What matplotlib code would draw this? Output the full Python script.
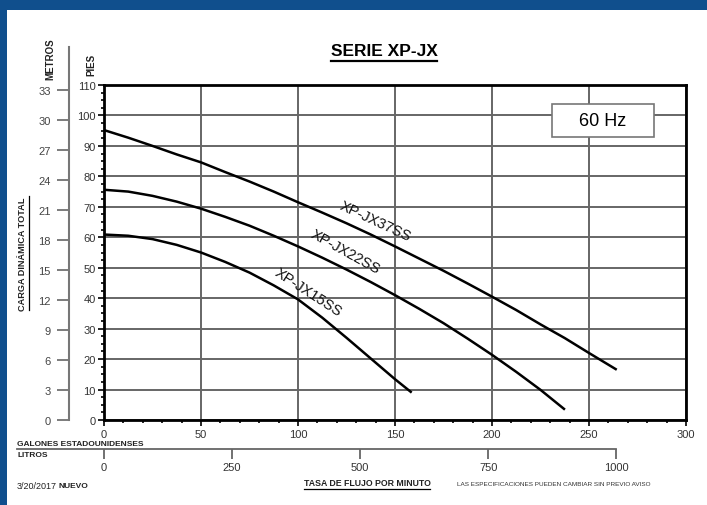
import matplotlib
matplotlib.use('Agg')
import matplotlib.pyplot as plt
from matplotlib.lines import Line2D
from matplotlib.patches import Rectangle
from matplotlib.ticker import MultipleLocator

plt.rcParams['font.family'] = ['Liberation Sans', 'DejaVu Sans']

# curvas: flujo (gpm) / carga (pies)
gpm_37 = [0, 12.5, 25, 37.5, 50, 62.5, 75, 87.5, 100, 112.5, 125, 137.5, 150,
          162.5, 175, 187.5, 200, 212.5, 225, 237.5, 250, 264.3]
ft_37 = [95.2, 92.7, 90.0, 87.2, 84.6, 81.4, 78.3, 75.0, 71.5, 68.1, 64.6, 60.9, 57.0,
         53.0, 49.0, 44.8, 40.5, 36.1, 31.4, 26.9, 22.0, 16.5]
gpm_22 = [0, 12.5, 25, 37.5, 50, 62.5, 75, 87.5, 100, 112.5, 125, 137.5, 150,
          162.5, 175, 187.5, 200, 212.5, 225, 237.6]
ft_22 = [75.6, 75.0, 73.6, 71.7, 69.4, 66.7, 63.8, 60.5, 57.0, 53.3, 49.4, 45.3, 41.0,
         36.5, 31.8, 26.7, 21.4, 15.8, 9.9, 3.4]
gpm_15 = [0, 12.5, 25, 37.5, 50, 62.5, 75, 87.5, 100, 112.5, 125, 137.5, 150, 158.6]
ft_15 = [60.9, 60.5, 59.4, 57.5, 55.0, 51.9, 48.4, 44.2, 39.6, 33.6, 27.0, 20.2, 13.4, 9.0]

names = ['XP-JX37SS', 'XP-JX22SS', 'XP-JX15SS']
label_gpm = [139.7, 124.2, 105.2]
label_ft = [65.4, 55.5, 42.0]
label_rot = [-25, -29, -33]

gpm_ticks = [0, 50, 100, 150, 200, 250, 300]
ft_ticks = list(range(0, 111, 10))
m_ticks = list(range(0, 34, 3))
lit_ticks = [0, 250, 500, 750, 1000]

W, H = 707, 506
blue = '#104f8d'
grid_c = '#666666'


def fx(x):
    return x / W


def fy(y):
    return 1 - y / H


def gal2lit(g):
    return g * 3.78541


def lit2gal(l):
    return l / 3.78541


def ft2m(f):
    return f * 0.3048


def m2ft(m):
    return m / 0.3048


fig = plt.figure(figsize=(W / 100, H / 100), dpi=100, facecolor=blue)
fig.add_artist(Rectangle((fx(7), 0), 1 - fx(7), fy(11), transform=fig.transFigure,
                         facecolor='white', edgecolor='none', zorder=0))

ax = fig.add_axes([fx(104), fy(421), fx(686) - fx(104), fy(86) - fy(421)])
ax.set_xlim(0, 300)
ax.set_ylim(0, 110)
ax.set_xticks(gpm_ticks)
ax.set_yticks(ft_ticks)
ax.xaxis.set_minor_locator(MultipleLocator(10))
ax.yaxis.set_minor_locator(MultipleLocator(2.5))
ax.grid(True, which='major', color=grid_c, lw=1.4)
ax.set_axisbelow(True)
for s in ax.spines.values():
    s.set_linewidth(2)
    s.set_color('black')
ax.tick_params(which='major', length=4, width=1.2, labelsize=8, labelcolor='#333333', pad=2)
ax.tick_params(axis='x', which='major', pad=2.5)
ax.tick_params(which='minor', length=2.5, width=1.2)

for g, f in [(gpm_37, ft_37), (gpm_22, ft_22), (gpm_15, ft_15)]:
    ax.plot(g, f, color='black', lw=1.8, solid_capstyle='butt', solid_joinstyle='round')

for name, lx, ly, rot in zip(names, label_gpm, label_ft, label_rot):
    ax.text(lx, ly, name, rotation=rot, rotation_mode='anchor', ha='center', va='center',
            fontsize=10.5, color='#111111')

# recuadro 60 Hz
x0, x1 = (552 - 104) / 582, (654 - 104) / 582
y0, y1 = (421 - 138) / 335, (421 - 105) / 335
ax.add_patch(Rectangle((x0, y0), x1 - x0, y1 - y0, transform=ax.transAxes,
                       facecolor='white', edgecolor='#777777', lw=1.2, zorder=3))
ax.text((x0 + x1) / 2, (y0 + y1) / 2, '60 Hz', transform=ax.transAxes, ha='center', va='center',
        fontsize=13, zorder=4)

# eje de litros
sx = ax.secondary_xaxis((421 - 450) / 335, functions=(gal2lit, lit2gal))
sx.set_xticks(lit_ticks)
sx.spines['bottom'].set_bounds(gal2lit(-44.8), 1000)
sx.spines['bottom'].set_color('#666666')
sx.spines['bottom'].set_linewidth(1.3)
sx.tick_params(length=7, width=1.3, color='#666666', labelsize=8, labelcolor='#333333', pad=2.5)

# eje de metros
sy = ax.secondary_yaxis((69 - 104) / 582, functions=(ft2m, m2ft))
sy.set_yticks(m_ticks)
sy.spines['left'].set_bounds(0, ft2m(122.5))
sy.spines['left'].set_color('#777777')
sy.spines['left'].set_linewidth(1.5)
sy.tick_params(length=9, width=1.2, color='#666666', labelsize=8, labelcolor='#444444', pad=4)

title = fig.text(fx(384), fy(52), 'SERIE XP-JX', ha='center', va='center', fontsize=12.5, fontweight='bold')
fig.text(fx(17), fy(444), 'GALONES ESTADOUNIDENSES', ha='left', va='center', fontsize=6, fontweight='bold', color='#222222')
fig.text(fx(17), fy(456), 'LITROS', ha='left', va='center', fontsize=6, fontweight='bold', color='#222222')
fig.text(fx(17), fy(487), '3/20/2017', ha='left', va='center', fontsize=6.5, color='#222222')
fig.text(fx(59), fy(487), 'NUEVO', ha='left', va='center', fontsize=6, fontweight='bold', color='#222222')
tasa = fig.text(fx(367), fy(484), 'TASA DE FLUJO POR MINUTO', ha='center', va='center', fontsize=6.3, fontweight='bold', color='#222222')
fig.text(fx(457), fy(485), 'LAS ESPECIFICACIONES PUEDEN CAMBIAR SIN PREVIO AVISO', ha='left', va='center',
         fontsize=4.6, color='#333333')
carga = fig.text(fx(23), fy(254), 'CARGA DINÁMICA TOTAL', ha='center', va='center', rotation=90,
                 fontsize=6.6, fontweight='bold', color='#222222')
fig.text(fx(50), fy(59), 'METROS', ha='center', va='center', rotation=90, fontsize=7, fontweight='bold', color='#222222')
fig.text(fx(91), fy(65), 'PIES', ha='center', va='center', rotation=90, fontsize=7, fontweight='bold', color='#222222')

# subrayados
fig.canvas.draw()
r = fig.canvas.get_renderer()
inv = fig.transFigure.inverted()
for t, lw, off in [(title, 1.6, 2.5), (tasa, 0.9, 1)]:
    bb = t.get_window_extent(r)
    (ux0, uy0), (ux1, _) = inv.transform([(bb.x0, bb.y0 - off), (bb.x1, bb.y0)])
    fig.add_artist(Line2D([ux0, ux1], [uy0, uy0], color='black', lw=lw, transform=fig.transFigure))
bb = carga.get_window_extent(r)
(ux0, uy0), (_, uy1) = inv.transform([(bb.x1 + 1, bb.y0), (bb.x1, bb.y1)])
fig.add_artist(Line2D([ux0, ux0], [uy0, uy1], color='black', lw=0.9, transform=fig.transFigure))

fig.savefig('out.png', dpi=100, facecolor=blue)
